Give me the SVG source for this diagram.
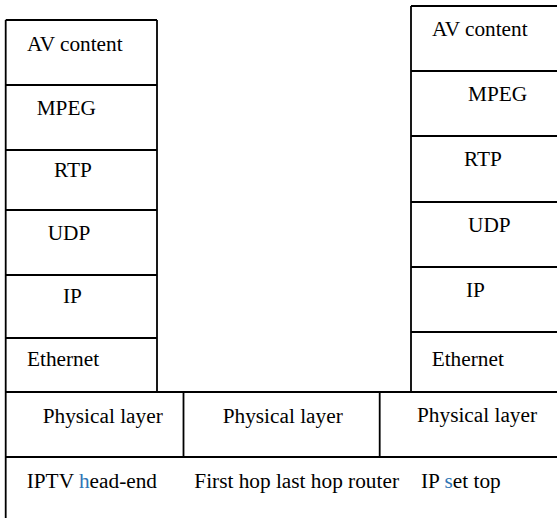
<svg xmlns="http://www.w3.org/2000/svg" width="557" height="518" viewBox="0 0 557 518">
<style>
.ln{stroke:#000;stroke-width:1.8;fill:none}
.t{font-family:'Liberation Serif','Times New Roman',serif;font-size:21.3px;fill:#000}
.hl{fill:#2E75B6}
</style>
<rect width="557" height="518" fill="#fff"/>
<g id="connectors">
<path class="ln" d="M5.7,20 H157 M5.7,85 H157 M5.7,150 H157 M5.7,210 H157 M5.7,275 H157 M5.7,338 H157 M157,20 V392"/>
<path class="ln" d="M411,6 H557 M411,71 H557 M411,136 H557 M411,202 H557 M411,267 H557 M411,332 H557 M411,6 V392"/>
<path class="ln" d="M5.7,20 V518 M5.7,392 H557 M5.7,457 H557 M183.5,392 V457 M379.7,392 V457"/>
</g>
<g id="left-stack" class="t">
<text x="27" y="51">AV content</text>
<text x="36.7" y="115">MPEG</text>
<text x="54" y="177">RTP</text>
<text x="47.7" y="240">UDP</text>
<text x="63" y="303">IP</text>
<text x="27" y="366">Ethernet</text>
</g>
<g id="right-stack" class="t">
<text x="432" y="36">AV content</text>
<text x="468" y="101">MPEG</text>
<text x="464" y="166">RTP</text>
<text x="468" y="232">UDP</text>
<text x="466" y="297">IP</text>
<text x="431.7" y="366">Ethernet</text>
</g>
<g id="physical-row" class="t">
<text x="42.7" y="423">Physical layer</text>
<text x="222.7" y="423">Physical layer</text>
<text x="417" y="422">Physical layer</text>
</g>
<g id="labels" class="t">
<text x="26.7" y="488">IPTV <tspan class="hl">h</tspan>ead-end</text>
<text x="194.3" y="488">First hop last hop router</text>
<text x="421" y="488">IP <tspan class="hl">s</tspan>et top</text>
</g>
</svg>
